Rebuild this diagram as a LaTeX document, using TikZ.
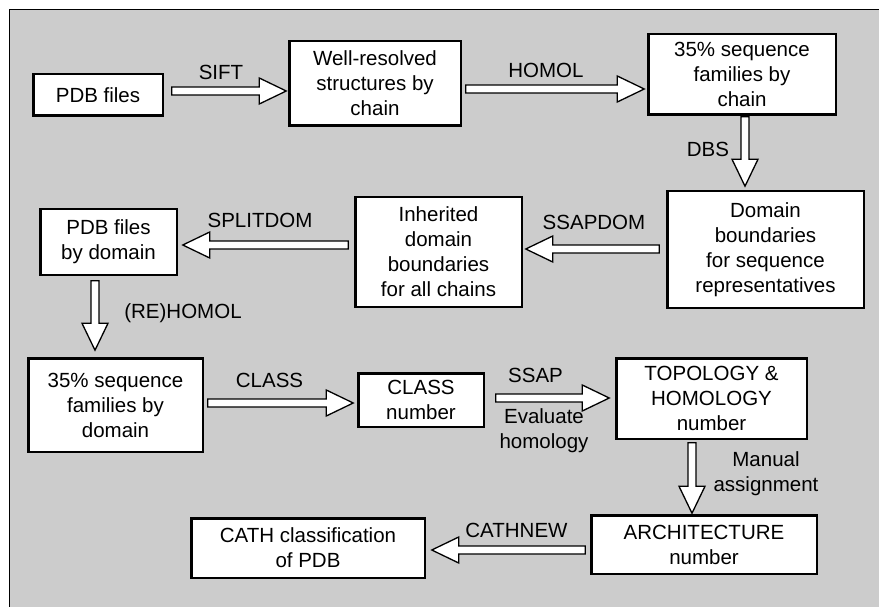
\documentclass[tikz,border=0pt]{standalone}
\usepackage{fontspec}
\setmainfont{Liberation Sans}
\usetikzlibrary{calc}
\tikzset{box/.style={draw=black, line width=2.5pt, fill=white, align=center, inner sep=0pt, outer sep=0pt, font=\fontsize{20.5}{25}\selectfont},
lbl/.style={align=center, inner sep=0pt, font=\fontsize{20.5}{25}\selectfont},
%outline of the hollow block arrows
fatline/.style={draw=black, line width=1.3pt, fill=white, line join=miter}}

\newcommand\fatarrow[2]{%
  \draw[fatline] let \p1=(#1), \p2=(#2), \n1={atan2(\y2-\y1,\x2-\x1)}, \n2={veclen(\x2-\x1,\y2-\y1)} in
  [shift={(\p1)}, rotate=\n1] (0,-4) -- (\n2-27,-4) -- (\n2-27,-13) -- (\n2,0) -- (\n2-27,13) -- (\n2-27,4) -- (0,4) -- cycle;}

\begin{document}
\begin{tikzpicture}[x=1pt, y=-1pt]

    \useasboundingbox (0,0) rectangle (879,607);
    \fill[black!20] (9,9) rectangle (879,607);
    \draw[line width=1pt] (879,9.5) -- (9.5,9.5) -- (9.5,607);

    % boxes, top row first
    \node[box, minimum width=129.5pt, minimum height=41.5pt] (pdb) at (98,95) {PDB files};
    \node[box, minimum width=171.5pt, minimum height=84.5pt] (wellres) at (375,83.5) {Well-resolved\\structures by\\chain};
    \node[box, minimum width=187.5pt, minimum height=80.5pt] (famchain) at (742,74.5) {35\% sequence\\families by\\chain};

    \node[box, minimum width=196.5pt, minimum height=116.5pt] (dombound) at (765.5,249.5) {Domain\\boundaries\\for sequence\\representatives};
    \node[box, minimum width=166.5pt, minimum height=109.5pt] (inherit) at (438.5,252) {Inherited\\domain\\boundaries\\for all chains};
    \node[box, minimum width=136.5pt, minimum height=65.5pt] (pdbdom) at (108.5,242) {PDB files\\by domain};

    \node[box, minimum width=174.5pt, minimum height=93.5pt] (famdom) at (115.5,405) {35\% sequence\\families by\\domain};
    \node[box, minimum width=125.5pt, minimum height=53.5pt] (classno) at (421,400) {CLASS\\number};
    \node[box, minimum width=190.5pt, minimum height=80.5pt] (topol) at (711.5,398.5) {TOPOLOGY \&\\HOMOLOGY\\number};

    \node[box, minimum width=225.5pt, minimum height=58.5pt] (arch) at (704,544.5) {ARCHITECTURE\\number};
    \node[box, minimum width=233.5pt, minimum height=59.5pt] (cath) at (308,548) {CATH classification\\of PDB};

    % program names
    \node[lbl] (lsift) at (221,72) {SIFT};
    \node[lbl] (lhomol) at (546,70) {HOMOL};
    \node[lbl] (ldbs) at (708,149.5) {DBS};
    \node[lbl] (lssapdom) at (594,222) {SSAPDOM};
    \node[lbl] (lsplitdom) at (260,220.5) {SPLITDOM};
    \node[lbl] (lrehomol) at (183,313) {(RE)HOMOL};
    \node[lbl] (lclass) at (269.5,380) {CLASS};
    \node[lbl] (lssap) at (535.5,375.5) {SSAP};
    \node[lbl] (leval) at (544,431) {Evaluate\\homology};
    \node[lbl] (lmanual) at (766,474) {Manual\\assignment};
    \node[lbl] (lcathnew) at (516.5,530) {CATHNEW};

    \fatarrow{$(pdb.east)+(9,-4)$}{$(wellres.west)+(-3,7.5)$}
    \fatarrow{$(wellres.east)+(5,5.5)$}{$(famchain.west)+(-4,14.5)$}
    \fatarrow{$(famchain.south)+(3,2)$}{$(dombound.north)+(-20.5,-5)$}
    \fatarrow{$(dombound.west)+(-8,-0.5)$}{$(inherit.east)+(4,-3)$}
    \fatarrow{$(inherit.west)+(-7,-7)$}{$(pdbdom.east)+(6,3)$}
    \fatarrow{$(pdbdom.south)+(-13.5,6)$}{$(famdom.north)+(-20.5,-8)$}
    \fatarrow{$(famdom.east)+(5,-2)$}{$(classno.west)+(-5,3)$}
    \fatarrow{$(classno.east)+(12,-2)$}{$(topol.west)+(-7,-0.5)$}
    \fatarrow{$(topol.south)+(-19.5,4)$}{$(arch.north)+(-12,-2)$}
    \fatarrow{$(arch.west)+(-6,5.5)$}{$(cath.east)+(7,2)$}

  \end{tikzpicture}
\end{document}
